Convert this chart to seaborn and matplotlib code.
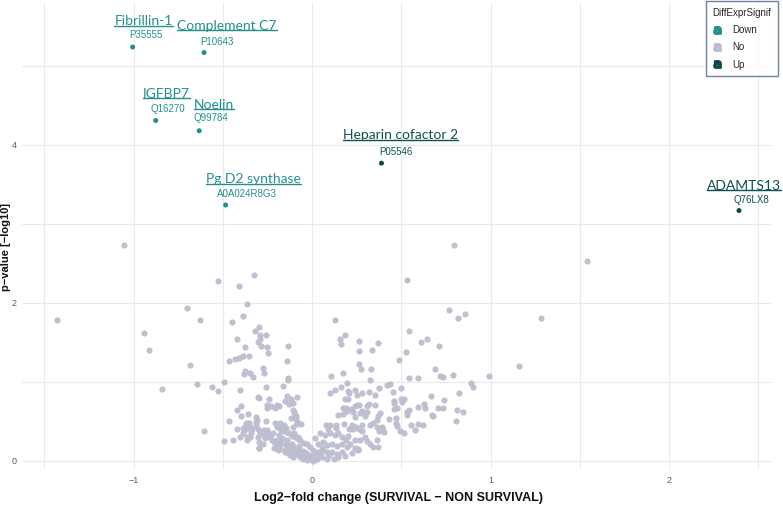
"""Volcano plot: protein abundance, SURVIVAL vs NON SURVIVAL."""

import matplotlib

matplotlib.use("Agg")

import matplotlib.pyplot as plt
import pandas as pd
import seaborn as sns
from matplotlib.lines import Line2D

# labelled (significant) proteins
hit_names = ["Fibrillin-1", "Complement C7", "IGFBP7", "Noelin",
             "Pg D2 synthase", "Heparin cofactor 2", "ADAMTS13"]
hit_ids = ["P35555", "P10643", "Q16270", "Q99784",
           "A0A024R8G3", "P05546", "Q76LX8"]
hit_log2fc = [-1.005, -0.605, -0.876, -0.632, -0.484, 0.389, 2.392]
hit_neglog10p = [5.24, 5.17, 4.31, 4.18, 3.24, 3.77, 3.17]
hit_signif = ["Down", "Down", "Down", "Down", "Down", "Up", "Up"]

# non significant proteins
ns_log2fc = [
    # left, outer
    -1.055, -1.428, -0.528, -0.411, -0.325, -0.364, -0.385, -0.70, -0.626, -0.45,
    -0.943, -0.911, -0.418, -0.683, -0.84, -0.643, -0.562, -0.527, -0.495, -0.405,
    -0.607, -0.495, -0.443, -0.405, -0.463, -0.418, -0.422, -0.398, -0.40, -0.357,
    -0.372, -0.351, -0.385, -0.334, -0.388, -0.343, -0.366, -0.347, -0.364, -0.316,
    -0.31, -0.26,
    # left, upper middle
    -0.295, -0.318, -0.29, -0.26, -0.291, -0.301, -0.288, -0.254, -0.245, -0.377,
    -0.133, -0.353, -0.388, -0.407, -0.43, -0.463, -0.138, -0.276, -0.375, -0.383,
    -0.347, -0.331, -0.269, -0.136, -0.133, -0.258, -0.164, -0.303, -0.295, -0.243,
    -0.142, -0.119, -0.086, -0.15, -0.127, -0.196, -0.206, -0.187, -0.25, -0.108,
    -0.094, -0.116, -0.105, -0.231, -0.254, -0.099, -0.088, -0.09,
    # left arm of the V
    -0.347, -0.375, -0.368, -0.316, -0.314, -0.303, -0.293, -0.278, -0.263, -0.245,
    -0.252, -0.271, -0.207, -0.192, -0.181, -0.159, -0.146, -0.146, -0.129, -0.114,
    -0.095, -0.08, -0.066, -0.047, -0.03, -0.011, -0.082, -0.062, -0.30, -0.295,
    -0.276, -0.263, -0.211, -0.194, -0.179, -0.151, -0.211, -0.178, -0.151, -0.127,
    -0.105, -0.095, -0.077, -0.058, -0.039, -0.021, -0.002, 0.005, -0.299, -0.123,
    -0.105, -0.086, -0.069, -0.049, -0.03,
    -0.254, -0.291, -0.235, -0.263, -0.217, -0.198, -0.179, -0.142, -0.123, -0.105,
    -0.086, -0.202, -0.189, -0.151, -0.133, -0.105, -0.295, -0.198, -0.175, -0.161,
    -0.108, -0.086, -0.099, -0.077, -0.168, -0.141, -0.115, -0.072, -0.052, -0.036,
    -0.018, -0.225, -0.24, -0.185, -0.06, -0.045,
    # right, outer
    0.794, 0.530, 0.766, 0.818, 0.857, 1.281, 1.539, 0.127, 0.543, 0.159,
    0.164, 0.187, 0.265, 0.372, 0.265, 0.336, 0.611, 0.644, 0.713, 0.527,
    0.487, 0.263, 0.276, 0.329, 1.161, 0.105, 0.176, 0.327, 0.194, 0.691,
    0.715, 0.734, 0.788, 0.992, 0.543, 0.594, 0.889, 0.904, 0.422, 0.439,
    0.499, 0.377, 0.101, 0.131, 0.161, 0.243, 0.28, 0.321, 0.2, 0.209,
    0.25, 0.454, 0.497, 0.514, 0.506, 0.461, 0.461, 0.667, 0.738, 0.826,
    0.183, 0.192, 0.22, 0.25, 0.263, 0.278, 0.31, 0.319, 0.353, 0.381,
    0.172, 0.144, 0.243, 0.295, 0.461, 0.474, 0.532, 0.542, 0.594, 0.627,
    0.633, 0.678, 0.704, 0.732, 0.812, 0.846, 0.809, 0.431, 0.469, 0.181,
    0.226, 0.246, 0.278, 0.133, 0.134, 0.325, 0.366, 0.39, 0.403, 0.377,
    0.478, 0.495, 0.515, 0.553, 0.579, 0.592, 0.62, 0.262, 0.28, 0.364,
    0.325, 0.258, 0.194, 0.125, 0.53, 0.671,
    # right arm of the V
    0.353, 0.2, 0.241, 0.175, 0.194, 0.232, 0.269, 0.31, 0.368, 0.363,
    0.469, 0.077, 0.101, 0.088, 0.209, 0.232, 0.344, 0.394, 0.045, 0.073,
    0.101, 0.129, 0.148, 0.166, 0.19, 0.204, 0.241, 0.269, 0.297, 0.34,
    0.372, 0.306, 0.017, 0.035, 0.063, 0.082, 0.11, 0.138, 0.166, 0.213,
    0.241, 0.26, 0.007, 0.035, 0.063, 0.082, 0.11, 0.138, 0.166, 0.185,
    0.222, 0.026, 0.054, 0.082, 0.148, 0.012, 0.042, 0.095, 0.058, 0.022,
]
ns_neglog10p = [
    # left, outer
    2.74, 1.78, 2.28, 2.21, 2.35, 1.99, 1.83, 1.94, 1.79, 1.76,
    1.62, 1.41, 1.55, 1.21, 0.91, 0.98, 0.94, 0.88, 1.00, 0.90,
    0.38, 0.25, 0.27, 0.30, 0.51, 0.41, 0.65, 0.70, 0.57, 0.59,
    0.48, 0.48, 0.42, 0.41, 0.36, 0.36, 0.31, 0.31, 0.27, 0.56,
    0.52, 0.50,
    # left, upper middle
    1.69, 1.65, 1.60, 1.60, 1.54, 1.51, 1.46, 1.44, 1.37, 1.44,
    1.46, 1.33, 1.33, 1.31, 1.29, 1.27, 1.27, 1.18, 1.14, 1.10,
    1.11, 1.06, 1.11, 1.05, 1.03, 0.94, 0.95, 0.81, 0.80, 0.78,
    0.82, 0.79, 0.81, 0.76, 0.72, 0.71, 0.67, 0.70, 0.67, 0.65,
    0.58, 0.54, 0.73, 0.70, 0.71, 0.62, 0.57, 0.53,
    # left arm of the V
    0.43, 0.43, 0.40, 0.49, 0.46, 0.41, 0.37, 0.35, 0.36, 0.34,
    0.39, 0.39, 0.48, 0.43, 0.48, 0.46, 0.42, 0.37, 0.35, 0.32,
    0.31, 0.28, 0.26, 0.23, 0.21, 0.18, 0.49, 0.47, 0.30, 0.24,
    0.22, 0.31, 0.24, 0.20, 0.25, 0.22, 0.17, 0.15, 0.12, 0.14,
    0.18, 0.12, 0.15, 0.11, 0.08, 0.05, 0.02, 0.00, 0.16, 0.08,
    0.05, 0.09, 0.05, 0.02, 0.01,
    0.37, 0.35, 0.31, 0.29, 0.35, 0.27, 0.22, 0.20, 0.18, 0.16,
    0.14, 0.18, 0.14, 0.14, 0.10, 0.10, 0.17, 0.43, 0.38, 0.43,
    0.43, 0.47, 0.35, 0.31, 0.29, 0.26, 0.21, 0.19, 0.13, 0.10,
    0.07, 0.27, 0.32, 0.33, 0.06, 0.04,
    # right, outer
    2.73, 2.29, 1.91, 1.81, 1.86, 1.81, 2.53, 1.79, 1.65, 1.54,
    1.48, 1.59, 1.52, 1.49, 1.39, 1.40, 1.50, 1.55, 1.45, 1.38,
    1.28, 1.23, 1.16, 1.16, 1.20, 1.07, 1.11, 1.03, 0.99, 1.16,
    1.07, 1.06, 1.09, 1.08, 1.05, 1.05, 0.99, 0.94, 0.96, 0.98,
    0.92, 0.92, 0.86, 0.90, 0.94, 0.90, 0.86, 0.87, 0.88, 0.86,
    0.84, 0.87, 0.79, 0.78, 0.75, 0.76, 0.73, 0.82, 0.77, 0.86,
    0.79, 0.67, 0.66, 0.71, 0.71, 0.63, 0.70, 0.72, 0.71, 0.61,
    0.60, 0.58, 0.56, 0.57, 0.66, 0.67, 0.62, 0.64, 0.68, 0.72,
    0.67, 0.57, 0.67, 0.67, 0.65, 0.62, 0.51, 0.53, 0.55, 0.47,
    0.46, 0.43, 0.46, 0.46, 0.42, 0.45, 0.43, 0.40, 0.37, 0.38,
    0.44, 0.38, 0.36, 0.46, 0.39, 0.47, 0.46, 0.40, 0.38, 0.26,
    0.22, 0.15, 0.18, 0.03, 0.58, 0.58,
    # right arm of the V
    0.84, 0.78, 0.69, 0.67, 0.63, 0.62, 0.61, 0.62, 0.57, 0.52,
    0.48, 0.46, 0.46, 0.41, 0.40, 0.41, 0.48, 0.43, 0.35, 0.33,
    0.36, 0.33, 0.35, 0.31, 0.27, 0.32, 0.27, 0.27, 0.30, 0.18,
    0.18, 0.25, 0.29, 0.22, 0.24, 0.20, 0.22, 0.19, 0.22, 0.21,
    0.16, 0.14, 0.14, 0.12, 0.14, 0.11, 0.12, 0.09, 0.12, 0.06,
    0.10, 0.03, 0.05, 0.02, 0.05, 0.08, 0.09, 0.07, 0.17, 0.02,
]

PALETTE = {"Down": "#21918c", "No": "#bcbdcf", "Up": "#0d4b4b"}
LABEL_COLORS = {"Down": "#23908c", "Up": "#0f4f4f"}
# pixel offsets of the gene-name labels from their point (dx, dy)
NAME_OFFSETS = [(11, 26), (23, 27), (11, 27), (15, 26), (28, 26), (19, 28), (5, 25)]
ID_OFFSETS = [(13, 12), (13, 11), (12, 12), (12, 13), (21, 11), (14, 11), (12, 11)]

W, H = 783, 511

hits = pd.DataFrame({
    "log2fc": hit_log2fc,
    "neglog10p": hit_neglog10p,
    "DiffExprSignif": hit_signif,
})
ns = pd.DataFrame({"log2fc": ns_log2fc, "neglog10p": ns_neglog10p})
ns["DiffExprSignif"] = "No"

sns.set_theme(style="white")
plt.rcParams["font.family"] = ["Liberation Sans", "DejaVu Sans"]

fig = plt.figure(figsize=(W / 100, H / 100), dpi=100)
ax = fig.add_axes([22 / W, 41 / H, 750 / W, 468 / H])

sns.scatterplot(data=ns, x="log2fc", y="neglog10p", color=PALETTE["No"],
                s=20, linewidth=0, alpha=0.95, legend=False, ax=ax, zorder=2)
sns.scatterplot(data=hits, x="log2fc", y="neglog10p", hue="DiffExprSignif",
                palette=PALETTE, s=13, linewidth=0, legend=False, ax=ax, zorder=3)

ax.set_xlim(-1.625, 2.577)
ax.set_ylim(-0.114, 5.81)
ax.set_xticks([-1, 0, 1, 2])
ax.set_xticks([-1.5, -0.5, 0.5, 1.5, 2.5], minor=True)
ax.set_yticks([0, 2, 4])
ax.set_yticks([1, 3, 5], minor=True)
ax.grid(which="both", color="#ebebee", linewidth=0.8)
ax.set_axisbelow(True)
for sp in ax.spines.values():
    sp.set_visible(False)
ax.tick_params(which="both", length=0, labelsize=6.5, labelcolor="#5a5a5a")
ax.tick_params(axis="x", pad=4)
ax.tick_params(axis="y", pad=4)
ax.set_xlabel("")
ax.set_ylabel("")

fig.text(398 / W, 1 - 498 / H, "Log2\u2212fold change (SURVIVAL \u2212 NON SURVIVAL)",
         ha="center", va="center", fontsize=9, fontweight="bold", color="#111111")
fig.text(6 / W, 1 - 247 / H, "p\u2212value [\u2212log10]", rotation=90,
         ha="center", va="center", fontsize=8, fontweight="bold", color="#111111")

# labels: gene name (underlined) with the UniProt id below it
name_texts = []
for i, row in hits.iterrows():
    col = LABEL_COLORS[row["DiffExprSignif"]]
    t = ax.annotate(hit_names[i], (row["log2fc"], row["neglog10p"]),
                    xytext=NAME_OFFSETS[i], textcoords="offset pixels",
                    ha="center", va="center", fontsize=10, color=col,
                    family=["Lato", "DejaVu Sans"], zorder=4)
    ax.annotate(hit_ids[i], (row["log2fc"], row["neglog10p"]),
                xytext=ID_OFFSETS[i], textcoords="offset pixels",
                ha="center", va="center", fontsize=7, color=col, zorder=4)
    name_texts.append((t, col))

fig.canvas.draw()
renderer = fig.canvas.get_renderer()
for t, col in name_texts:
    bb = t.get_window_extent(renderer)
    y = (bb.y0 + 1.5) / H
    fig.add_artist(Line2D([bb.x0 / W, bb.x1 / W], [y, y], color=col,
                          linewidth=1.0, transform=fig.transFigure))

order = ["Down", "No", "Up"]
handles = [Line2D([], [], linestyle="", marker=r"$\mathbf{a}$", markersize=5.5,
                  color=PALETTE[k]) for k in order]
leg = fig.legend(handles, order, title="DiffExprSignif", loc="upper right",
                 bbox_to_anchor=(778 / W, 1 - 1 / H), borderaxespad=0,
                 frameon=True, fancybox=False,
                 edgecolor="#4a6488", fontsize=7, title_fontsize=7,
                 handlelength=1.0, handletextpad=1.0, labelspacing=0.75,
                 borderpad=0.7, alignment="left")
leg.get_frame().set_linewidth(1.0)

fig.savefig("out.png", dpi=100)
